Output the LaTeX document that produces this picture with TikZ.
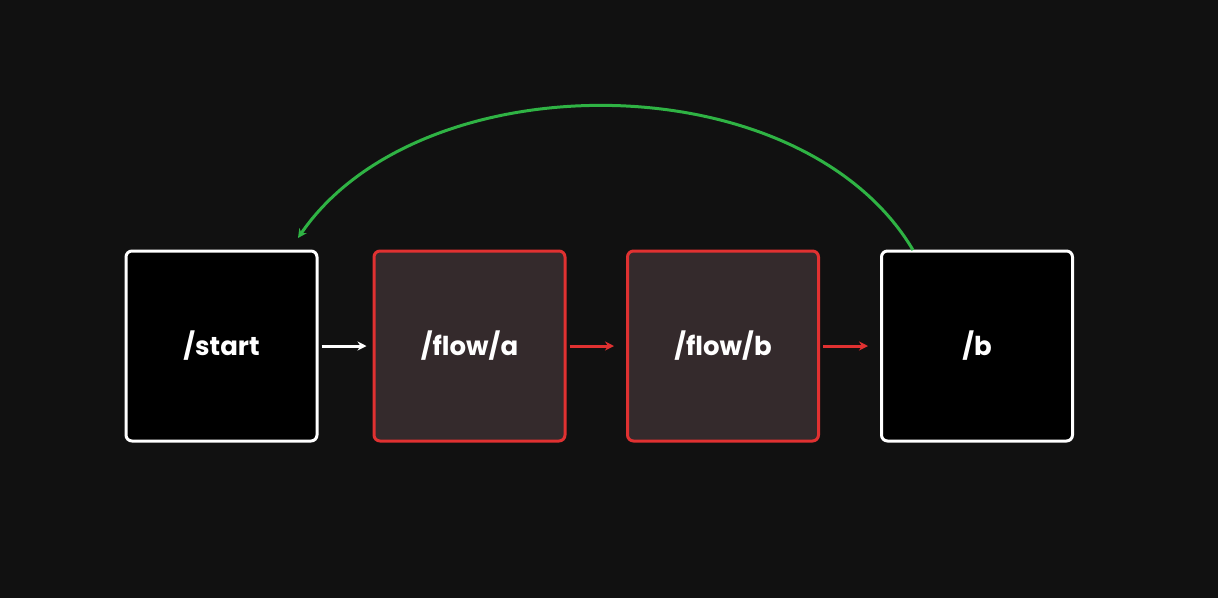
\documentclass[tikz,border=0pt]{standalone}
\usepackage{fontspec}
\setmainfont{Poppins}
\usetikzlibrary{arrows.meta}
\definecolor{bg}{HTML}{111111}
\definecolor{redc}{HTML}{E03131}
\definecolor{redfill}{HTML}{342A2C}
\definecolor{greenc}{HTML}{2FB344}
\begin{document}
\begin{tikzpicture}[x=1pt,y=-1pt,
  box/.style={draw=white,line width=3pt,rounded corners=6pt,minimum width=191pt,minimum height=190pt,fill=black,text=white,font=\fontsize{26}{30}\selectfont\bfseries},
  redbox/.style={box,draw=redc,fill=redfill},
  arr/.style={-{Stealth[length=9pt,width=9pt]},line width=3pt}]
\fill[bg] (0,0) rectangle (1218,598);
\useasboundingbox (0,0) rectangle (1218,598);
\node[box] (s) at (221.5,346) {/start};
\node[redbox] (a) at (469.5,346) {/flow/a};
\node[redbox] (b) at (723,346) {/flow/b};
\node[box] (e) at (977,346) {/b};
\draw[arr,white] (s.east) ++(3,0) coordinate (s1) (s1) -- ([xshift=-6pt]a.west);
\draw[arr,redc] ([xshift=3pt]a.east) -- ([xshift=-12pt]b.west);
\draw[arr,redc] ([xshift=3pt]b.east) -- ([xshift=-12pt]e.west);
\coordinate (g1) at (913,250);
\coordinate (g2) at (298,238);
\draw[arr,greenc] (g1) .. controls (800,60) and (420,60) .. (g2);
\end{tikzpicture}
\end{document}
